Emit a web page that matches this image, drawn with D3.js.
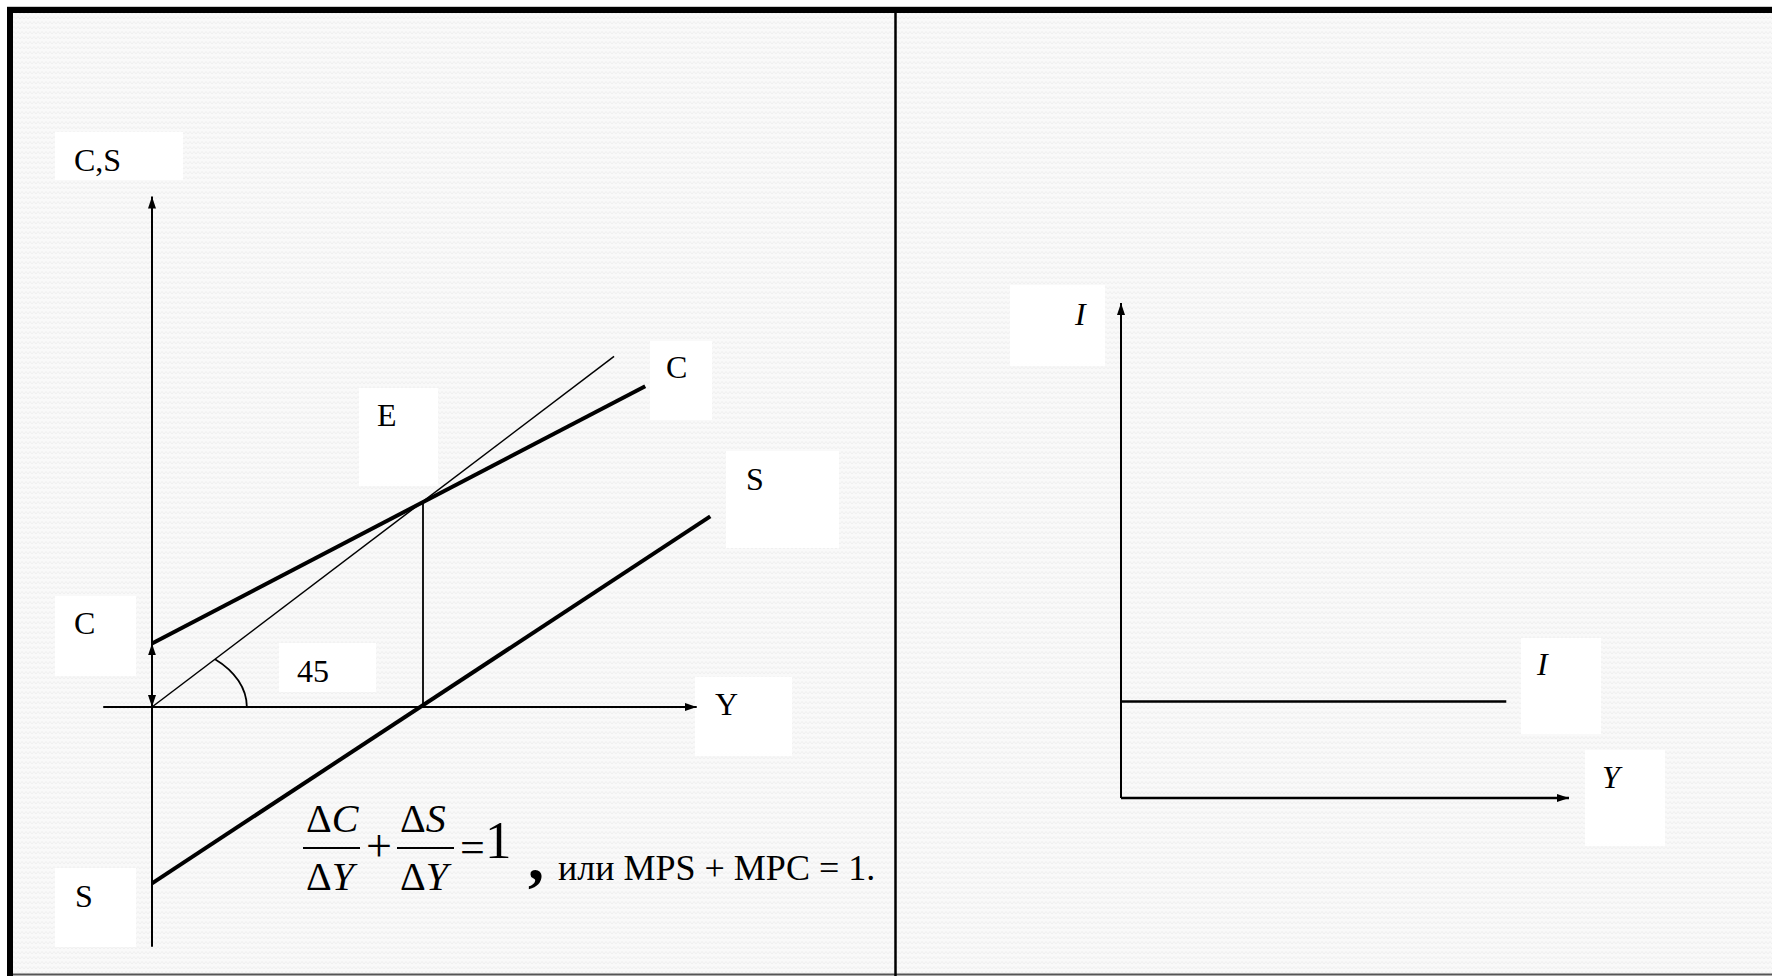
<!DOCTYPE html>
<head>
<meta charset="utf-8">
<title>C, S and I</title>
<style>
  body { margin: 0; background: #fff; }
  text { font-family: "Liberation Serif", "Times New Roman", serif; fill: #000; }
</style>
</head>
<body>
<script src="https://d3js.org/d3.v7.min.js"></script>
<script>
// left panel: income Y on x, consumption / saving on y
const yAxisRange = [-11.7, 24.9];
const xAxisRange = [-1.8, 20.1];
const line45 = [[0, 0], [17.05, 17.1]];
const consumption = [[0, 3.1], [18.2, 15.65]];
const saving = [[0, -8.6], [20.6, 9.3]];
const equilibrium = [10, 10];
const autonomous = 3.1;

// right panel: investment
const iAxisX = [0, 10];
const iAxisY = [0, 10];
const investment = [[0, 1.95], [8.6, 1.95]];

const leftLabels = ["C,S", "E", "C", "S", "Y", "C", "S", "45"];
const rightLabels = ["I", "I", "Y"];

let width = 1772;
let height = 976;
let svg = d3.select("body").append("svg")
  .attr("width", width)
  .attr("height", height);

let defs = svg.append("defs");
let pat = defs.append("pattern")
  .attr("id", "bg")
  .attr("width", 8).attr("height", 5)
  .attr("patternUnits", "userSpaceOnUse");
pat.append("rect").attr("width", 8).attr("height", 5).attr("fill", "#f9f9f9");
pat.append("path")
  .attr("d", "M0,4 L2,1.5 L4,4 L6,1.5 L8,4")
  .attr("fill", "none").attr("stroke", "#efefef").attr("stroke-width", 1);

function arrowMarker(id, orient) {
  defs.append("marker")
    .attr("id", id)
    .attr("markerUnits", "userSpaceOnUse")
    .attr("viewBox", "0 0 12 8")
    .attr("refX", 12).attr("refY", 4)
    .attr("markerWidth", 12).attr("markerHeight", 8)
    .attr("orient", orient)
    .append("path").attr("d", "M0,0 L12,4 L0,8 Z").attr("fill", "#000");
}
arrowMarker("arr", "auto");
arrowMarker("arrStart", "auto-start-reverse");

// background + frame
svg.append("rect").attr("x", 7).attr("y", 7).attr("width", width - 7).attr("height", 968)
  .attr("fill", "url(#bg)");
svg.append("line").attr("x1", 7).attr("x2", width).attr("y1", 6.5).attr("y2", 6.5)
  .attr("stroke", "#ccc").attr("stroke-width", 1);
svg.append("line").attr("x1", 7).attr("x2", width).attr("y1", 974.5).attr("y2", 974.5)
  .attr("stroke", "#555").attr("stroke-width", 2);
svg.append("line").attr("x1", 7).attr("x2", width).attr("y1", 10).attr("y2", 10)
  .attr("stroke", "#000").attr("stroke-width", 6);
svg.append("line").attr("x1", 10).attr("x2", 10).attr("y1", 7).attr("y2", 976)
  .attr("stroke", "#000").attr("stroke-width", 6);
svg.append("line").attr("x1", 895.5).attr("x2", 895.5).attr("y1", 10).attr("y2", 976)
  .attr("stroke", "#000").attr("stroke-width", 2.5);

// white label boxes
function box(x, y, w, h) {
  svg.append("rect").attr("x", x).attr("y", y).attr("width", w).attr("height", h).attr("fill", "#fff");
}
function label(t, x, y, italic) {
  svg.append("text").attr("x", x).attr("y", y)
    .style("font-size", "32px")
    .style("font-style", italic ? "italic" : "normal")
    .text(t);
}

// ---------- left panel ----------
let x = d3.scaleLinear().domain([0, 10]).range([152, 423]);
let y = d3.scaleLinear().domain([0, 10]).range([707, 502]);
let line = d3.line().x(d => x(d[0])).y(d => y(d[1]));

let lBoxes = [
  [55, 132, 128, 48, 74, 171],
  [359, 388, 79, 98, 377, 426],
  [650, 341, 62, 79, 666, 378],
  [726, 451, 113, 97, 746, 490],
  [695, 677, 97, 79, 715, 715],
  [55, 596, 81, 80, 74, 634],
  [55, 868, 81, 79, 75, 907],
  [279, 643, 97, 49, 297, 682]
];
lBoxes.forEach(b => box(b[0], b[1], b[2], b[3]));

// axes
svg.append("path")
  .attr("d", line([[0, yAxisRange[0]], [0, yAxisRange[1]]]))
  .attr("stroke", "#000").attr("stroke-width", 2).attr("fill", "none")
  .attr("marker-end", "url(#arr)");
svg.append("path")
  .attr("d", line([[xAxisRange[0], 0], [xAxisRange[1], 0]]))
  .attr("stroke", "#000").attr("stroke-width", 2).attr("fill", "none")
  .attr("marker-end", "url(#arr)");

// autonomous consumption double arrow
svg.append("path")
  .attr("d", line([[0, 0], [0, autonomous]]))
  .attr("stroke", "#000").attr("stroke-width", 2).attr("fill", "none")
  .attr("marker-start", "url(#arrStart)")
  .attr("marker-end", "url(#arr)");

// 45 degree line
svg.append("path").attr("d", line(line45))
  .attr("stroke", "#000").attr("stroke-width", 1.5).attr("fill", "none");

// angle arc
let r1 = x(3.5) - x(0), r2 = 64;
let ang = Math.atan2(y(0) - y(line45[1][1]), x(line45[1][0]) - x(0));
let ex = x(0) + r1 * Math.cos(Math.atan((r1 / r2) * Math.tan(ang)));
let ey = y(0) - r2 * Math.sin(Math.atan((r1 / r2) * Math.tan(ang)));
svg.append("path")
  .attr("d", `M${x(0) + r1},${y(0)} A${r1},${r2} 0 0 0 ${ex},${ey}`)
  .attr("stroke", "#000").attr("stroke-width", 1.8).attr("fill", "none");

// drop line from E
svg.append("path").attr("d", line([equilibrium, [equilibrium[0], 0]]))
  .attr("stroke", "#000").attr("stroke-width", 1.8).attr("fill", "none");

// C and S lines
svg.append("path").attr("d", line(consumption))
  .attr("stroke", "#000").attr("stroke-width", 4).attr("fill", "none");
svg.append("path").attr("d", line(saving))
  .attr("stroke", "#000").attr("stroke-width", 4).attr("fill", "none");

lBoxes.forEach((b, i) => label(leftLabels[i], b[4], b[5], false));

// formula
let fs = "40px";
function frac(x0, top, bottom) {
  let t = svg.append("text").attr("x", x0).attr("y", 832).style("font-size", fs);
  t.append("tspan").text("\u0394");
  t.append("tspan").style("font-style", "italic").text(top);
  let b = svg.append("text").attr("x", x0).attr("y", 890).style("font-size", fs);
  b.append("tspan").text("\u0394");
  b.append("tspan").style("font-style", "italic").text(bottom);
  svg.append("line").attr("x1", x0 - 3).attr("x2", x0 + 54).attr("y1", 848).attr("y2", 848)
    .attr("stroke", "#000").attr("stroke-width", 2);
}
frac(306, "C", "Y");
frac(400, "S", "Y");
svg.append("text").attr("x", 366).attr("y", 861).style("font-size", "46px").text("+");
svg.append("text").attr("x", 460).attr("y", 862).style("font-size", "44px").text("=");
svg.append("text").attr("x", 485).attr("y", 858).style("font-size", "53px").text("1");
svg.append("text").attr("x", 528).attr("y", 879).style("font-size", "64px")
  .style("font-weight", "bold").text(",");
svg.append("text").attr("x", 558).attr("y", 880).style("font-size", "36px")
  .text("или MPS + MPC = 1.");

// ---------- right panel ----------
let xr = d3.scaleLinear().domain([0, 10]).range([1121, 1569]);
let yr = d3.scaleLinear().domain([0, 10]).range([798, 303]);
let liner = d3.line().x(d => xr(d[0])).y(d => yr(d[1]));

let rBoxes = [
  [1010, 285, 95, 81, 1075, 325],
  [1521, 638, 80, 96, 1537, 675],
  [1585, 750, 80, 96, 1602, 788]
];
rBoxes.forEach(b => box(b[0], b[1], b[2], b[3]));

svg.append("path")
  .attr("d", liner([[0, iAxisY[0]], [0, iAxisY[1]]]))
  .attr("stroke", "#000").attr("stroke-width", 2).attr("fill", "none")
  .attr("marker-end", "url(#arr)");
svg.append("path")
  .attr("d", liner([[iAxisX[0], 0], [iAxisX[1], 0]]))
  .attr("stroke", "#000").attr("stroke-width", 2.5).attr("fill", "none")
  .attr("marker-end", "url(#arr)");
svg.append("path").attr("d", liner(investment))
  .attr("stroke", "#000").attr("stroke-width", 2.5).attr("fill", "none");

rBoxes.forEach((b, i) => label(rightLabels[i], b[4], b[5], true));
</script>
</body>
